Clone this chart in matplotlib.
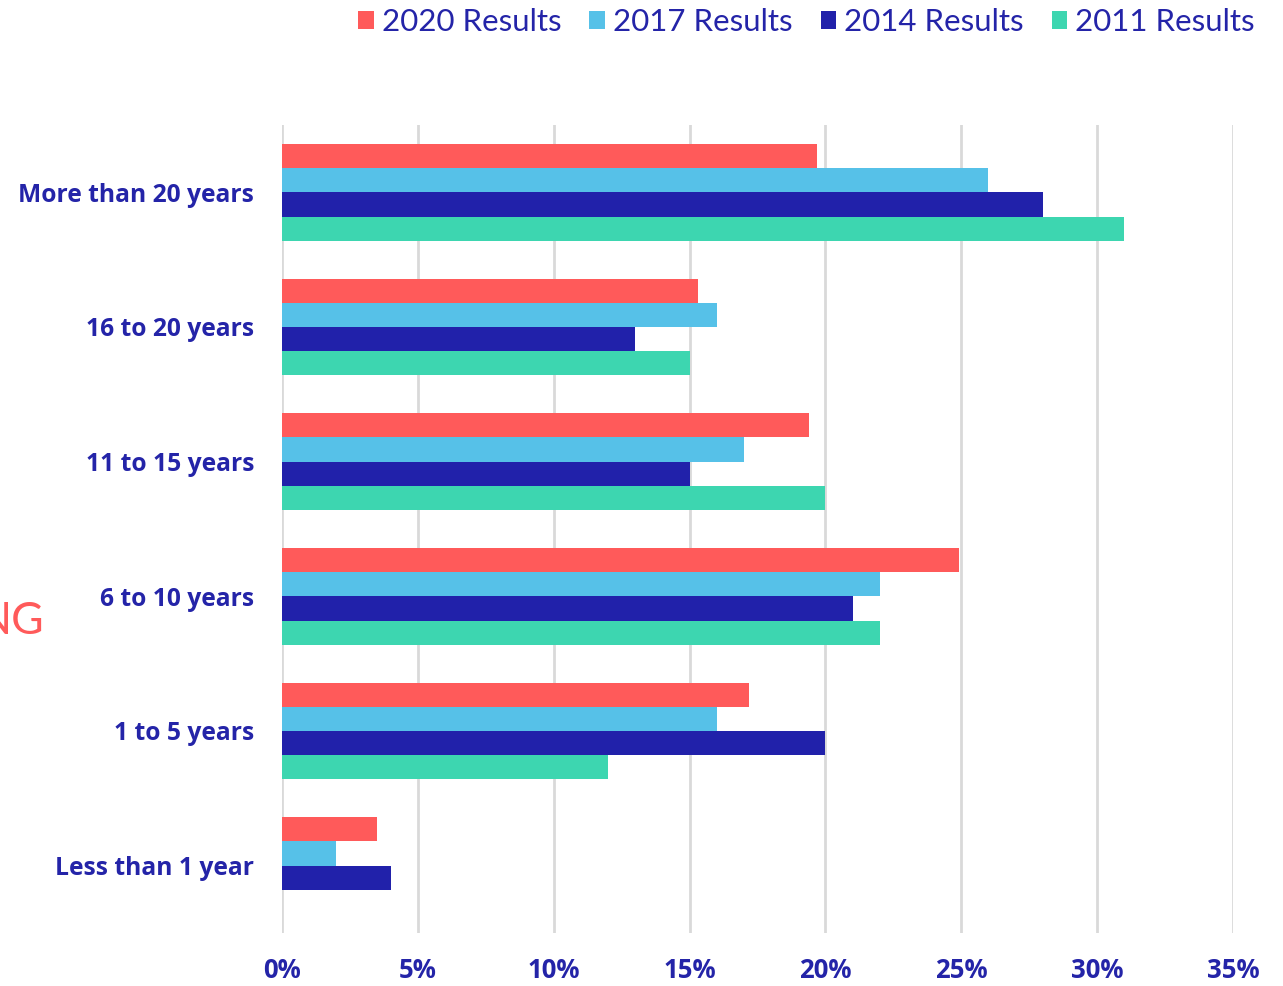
import matplotlib
matplotlib.use("Agg")
import matplotlib.pyplot as plt
from matplotlib.patches import Patch
import numpy as np

categories = ["More than 20 years", "16 to 20 years", "11 to 15 years",
              "6 to 10 years", "1 to 5 years", "Less than 1 year"]
series_names = ["2020 Results", "2017 Results", "2014 Results", "2011 Results"]
r2020 = [19.7, 15.3, 19.4, 24.9, 17.2, 3.5]
r2017 = [26.0, 16.0, 17.0, 22.0, 16.0, 2.0]
r2014 = [28.0, 13.0, 15.0, 21.0, 20.0, 4.0]
r2011 = [31.0, 15.0, 20.0, 22.0, 12.0, 0.0]
xticks = [0, 5, 10, 15, 20, 25, 30, 35]
xtick_labels = ["0%", "5%", "10%", "15%", "20%", "25%", "30%", "35%"]

colors = ["#FF5A5A", "#56C1E8", "#2121AA", "#3DD6B0"]
text_color = "#2424A8"

fig = plt.figure(figsize=(12.83, 9.86), dpi=100)
ax = fig.add_axes([282/1283, (986-933)/986, (1233-282)/1283, (933-125)/986])

y = np.arange(len(categories))
h = 0.18
for i, (vals, c) in enumerate(zip([r2020, r2017, r2014, r2011], colors)):
    ax.barh(y - 1.5*h + i*h, vals, height=h, color=c, zorder=3)

ax.set_ylim(len(categories) - 0.5, -0.5)
ax.set_xlim(0, 35)
ax.set_xticks(xticks)
ax.set_xticklabels(xtick_labels)
ax.set_yticks(y)
ax.set_yticklabels(categories)
ax.grid(axis="x", color="#D9D9D9", linewidth=2, zorder=0)
for s in ax.spines.values():
    s.set_visible(False)
ax.tick_params(axis="both", length=0, colors=text_color)
ax.tick_params(axis="y", pad=20)
ax.tick_params(axis="x", pad=17)
for lab in ax.get_yticklabels():
    lab.set_fontfamily("Open Sans")
    lab.set_fontweight("bold")
    lab.set_fontsize(17.7)
    lab.set_color(text_color)
for lab in ax.get_xticklabels():
    lab.set_fontfamily("Open Sans")
    lab.set_fontweight("bold")
    lab.set_fontsize(18.5)
    lab.set_color(text_color)

handles = [Patch(facecolor=c, edgecolor="none") for c in colors]
leg = fig.legend(handles, series_names, loc="upper right", ncol=4,
                 bbox_to_anchor=(1.0, 1.02), frameon=False,
                 handlelength=0.5, handleheight=0.5, handletextpad=0.25,
                 columnspacing=0.9,
                 prop={"family": "Lato", "size": 22.5})
for t in leg.get_texts():
    t.set_color(text_color)

fig.text(44/1283, 1 - 621/986, "NG", ha="right", va="center",
         color="#FF5A5A", fontsize=32, fontfamily="Lato")

fig.savefig("out.png", dpi=100)
